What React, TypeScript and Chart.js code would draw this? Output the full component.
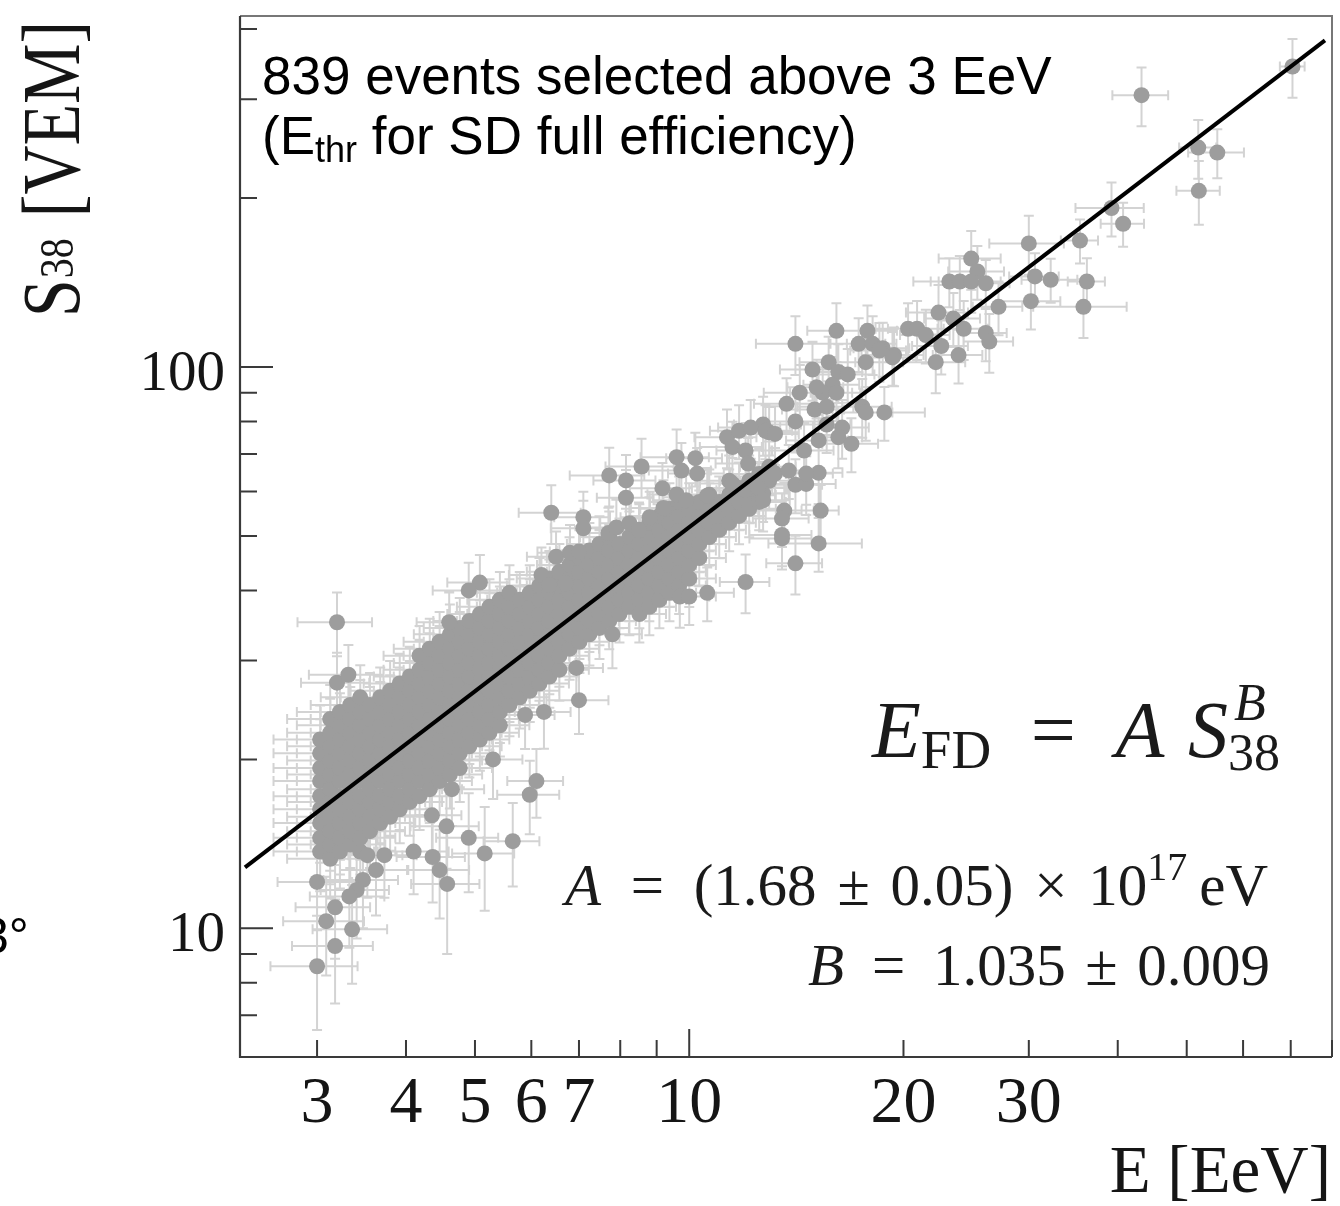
import React, { useEffect, useRef } from "react";
import { Chart, registerables } from "chart.js";

Chart.register(...registerables);

// ---------- axis ranges and ticks ----------
const X_MIN = 2.338;
const X_MAX = 80;
const Y_MIN = 5.9;
const Y_MAX = 422;

const xTickValues = [3, 4, 5, 6, 7, 8, 9, 10, 20, 30, 40, 50, 60, 70, 80];
const xMajorTicks = [10];
const xLabelValues = [3, 4, 5, 6, 7, 10, 20, 30];
const xLabelTexts = ["3", "4", "5", "6", "7", "10", "20", "30"];

const yTickValues = [7, 8, 9, 10, 20, 30, 40, 50, 60, 70, 80, 90, 100, 200, 300, 400];
const yMajorTicks = [10, 100];
const yLabelValues = [10, 100];
const yLabelTexts = ["10", "100"];

// ---------- fit line E_FD = A S38^B (endpoints) ----------
const fitLineE = [2.376, 78.2];
const fitLineS = [12.84, 381.8];

// ---------- dense band of events: energy columns (EeV) and S38 values (VEM) ----------
const bandEnergy = [
  3.03, 3.13, 3.23, 3.34, 3.45, 3.56, 3.68, 3.8, 3.92, 4.05, 4.18, 4.32, 4.46, 4.61, 4.76, 4.91,
  5.08, 5.24, 5.42, 5.59, 5.78, 5.97, 6.16, 6.36, 6.57, 6.79, 7.01, 7.24, 7.48, 7.72, 7.98, 8.24,
  8.51, 8.79, 9.08, 9.38, 9.68, 10.0, 10.33, 10.67, 11.02, 11.38, 11.75, 12.14, 12.54, 12.95,
];
const bandS38 = [
  [13.7, 14.5, 15.4, 16.3, 17.2, 18.3, 19.3, 20.5, 21.7],
  [13.3, 14.1, 14.9, 15.8, 16.8, 17.7, 18.8, 19.9, 21.1, 22.3, 23.6],
  [13.7, 14.5, 15.4, 16.3, 17.2, 18.3, 19.3, 20.5, 21.7, 23.0, 24.3],
  [14.1, 14.9, 15.8, 16.8, 17.7, 18.8, 19.9, 21.1, 22.3, 23.6, 25.0],
  [13.7, 14.5, 15.4, 16.3, 17.2, 18.3, 19.3, 20.5, 21.7, 23.0, 24.3, 25.8],
  [14.9, 15.8, 16.8, 17.7, 18.8, 19.9, 21.1, 22.3, 23.6, 25.0],
  [15.4, 16.3, 17.2, 18.3, 19.3, 20.5, 21.7, 23.0, 24.3, 25.8],
  [15.8, 16.8, 17.7, 18.8, 19.9, 21.1, 22.3, 23.6, 25.0, 26.5],
  [16.3, 17.2, 18.3, 19.3, 20.5, 21.7, 23.0, 24.3, 25.8, 27.3],
  [16.8, 17.7, 18.8, 19.9, 21.1, 22.3, 23.6, 25.0, 26.5, 28.1],
  [17.2, 18.3, 19.3, 20.5, 21.7, 23.0, 24.3, 25.8, 27.3, 28.9, 30.6],
  [17.7, 18.8, 19.9, 21.1, 22.3, 23.6, 25.0, 26.5, 28.1, 29.7, 31.5],
  [18.3, 19.3, 20.5, 21.7, 23.0, 24.3, 25.8, 27.3, 28.9, 30.6, 32.4],
  [18.8, 19.9, 21.1, 22.3, 23.6, 25.0, 26.5, 28.1, 29.7, 31.5, 33.4],
  [19.3, 20.5, 21.7, 23.0, 24.3, 25.8, 27.3, 28.9, 30.6, 32.4, 34.3],
  [21.1, 22.3, 23.6, 25.0, 26.5, 28.1, 29.7, 31.5, 33.4, 35.3],
  [21.7, 23.0, 24.3, 25.8, 27.3, 28.9, 30.6, 32.4, 34.3, 36.3],
  [22.3, 23.6, 25.0, 26.5, 28.1, 29.7, 31.5, 33.4, 35.3, 37.4],
  [23.0, 24.3, 25.8, 27.3, 28.9, 30.6, 32.4, 34.3, 36.3, 38.5],
  [25.0, 26.5, 28.1, 29.7, 31.5, 33.4, 35.3, 37.4, 39.6],
  [25.8, 27.3, 28.9, 30.6, 32.4, 34.3, 36.3, 38.5],
  [26.5, 28.1, 29.7, 31.5, 33.4, 35.3, 37.4, 39.6],
  [27.3, 28.9, 30.6, 32.4, 34.3, 36.3, 38.5, 40.8],
  [28.1, 29.7, 31.5, 33.4, 35.3, 37.4, 39.6, 42.0],
  [28.9, 30.6, 32.4, 34.3, 36.3, 38.5, 40.8, 43.2],
  [31.5, 33.4, 35.3, 37.4, 39.6, 42.0, 44.4],
  [32.4, 34.3, 36.3, 38.5, 40.8, 43.2, 45.7],
  [33.4, 35.3, 37.4, 39.6, 42.0, 44.4, 47.1],
  [34.3, 36.3, 38.5, 40.8, 43.2, 45.7, 48.4],
  [35.3, 37.4, 39.6, 42.0, 44.4, 47.1, 49.8],
  [36.3, 38.5, 40.8, 43.2, 45.7, 48.4],
  [37.4, 39.6, 42.0, 44.4, 47.1, 49.8],
  [36.3, 38.5, 40.8, 43.2, 45.7, 48.4, 51.3],
  [37.4, 39.6, 42.0, 44.4, 47.1, 49.8, 52.8],
  [38.5, 40.8, 43.2, 45.7, 48.4, 51.3, 54.3],
  [39.6, 42.0, 44.4, 47.1, 49.8, 52.8, 55.9],
  [40.8, 43.2, 45.7, 48.4, 51.3, 54.3, 57.5],
  [42.0, 44.4, 47.1, 49.8, 52.8, 55.9],
  [45.7, 48.4, 51.3, 54.3, 57.5],
  [49.8, 52.8, 55.9, 59.2],
  [51.3, 54.3, 57.5],
  [52.8, 55.9, 59.2, 62.7],
  [54.3, 57.5, 60.9],
  [55.9, 59.2, 62.7],
  [57.5, 60.9, 64.5],
  [62.7, 66.4],
];
// relative errors (%) per band column
const bandErrE = [
  14, 13, 13, 12, 12, 12, 12, 12, 11, 11, 11, 11, 11, 11, 11, 11, 10, 10, 10, 10, 10, 10, 10,
  10, 10, 10, 10, 10, 10, 9, 9, 9, 9, 9, 9, 9, 9, 9, 9, 9, 9, 9, 9, 9, 9, 9,
];
const bandErrS = [
  15, 15, 14, 14, 14, 14, 13, 13, 13, 13, 13, 13, 13, 13, 13, 12, 12, 12, 12, 12, 12, 12, 12,
  12, 12, 12, 12, 12, 12, 11, 11, 11, 11, 11, 11, 11, 11, 11, 11, 11, 11, 11, 11, 11, 11, 11,
];

// ---------- individually visible events: [E (EeV), S38 (VEM), dE %, dS %] ----------
const sparseEvents: [number, number, number, number][] = [
  [43.2, 305, 9, 12], [70.4, 343, 4, 12], [51.9, 246, 6, 12], [55.2, 241, 9, 10],
  [52.0, 206, 7, 13], [39.2, 192, 11, 11], [40.7, 180, 7, 9], [35.4, 168, 6, 9],
  [30.0, 166, 12, 12], [24.9, 156, 10, 12], [25.4, 148, 9, 11], [23.2, 142, 11, 10],
  [24.0, 142, 9, 11], [24.9, 142, 10, 12], [26.1, 141, 8, 10], [30.6, 145, 8, 10],
  [32.2, 143, 9, 9], [36.2, 142, 6, 10], [30.2, 131, 10, 11], [35.8, 128, 15, 12],
  [27.2, 128, 8, 11], [22.4, 125, 10, 12], [23.5, 122, 9, 11], [24.3, 117, 8, 12],
  [20.3, 117, 10, 11], [20.9, 117, 9, 12], [21.5, 114, 8, 11], [26.1, 115, 7, 11],
  [26.4, 111, 8, 12], [22.6, 109, 9, 11], [23.9, 105, 8, 11], [22.2, 102, 10, 12],
  [16.1, 116, 9, 12], [17.8, 116, 10, 11], [14.1, 110, 12, 12], [17.3, 110, 9, 11],
  [18.1, 110, 8, 12], [18.7, 108, 9, 11], [19.4, 105, 10, 12], [18.5, 107, 9, 12],
  [19.3, 104, 8, 11], [17.7, 102, 9, 11], [14.9, 99, 10, 12], [15.7, 102, 9, 11],
  [16.2, 98, 8, 12], [16.7, 97, 9, 11], [15.9, 93, 9, 12], [15.4, 90, 10, 11],
  [14.3, 90, 11, 12], [13.7, 86, 10, 11], [15.1, 92, 9, 12], [16.1, 90, 8, 11],
  [15.0, 84, 10, 12], [15.6, 85, 9, 11], [17.5, 85, 10, 12], [17.7, 83, 9, 11],
  [18.8, 83, 14, 11], [14.1, 80, 9, 12], [12.95, 76.5, 10, 11], [12.7, 79, 9, 12],
  [15.6, 79, 8, 11], [16.4, 78, 9, 12], [15.2, 74, 10, 11], [16.2, 75, 8, 12],
  [16.9, 73, 9, 11], [14.5, 71, 10, 12], [13.2, 64.6, 9, 11], [15.2, 64.8, 8, 12],
  [14.1, 61.7, 9, 11], [14.6, 61.9, 10, 12], [12.7, 59.5, 9, 11], [13.6, 55.5, 10, 12],
  [15.3, 55.5, 6, 11], [13.5, 53.7, 9, 11], [13.5, 49.5, 10, 12], [15.2, 48.5, 15, 11],
  [14.1, 44.7, 9, 12], [11.3, 75, 10, 12], [11.75, 77, 9, 11], [12.2, 78, 10, 12],
  [12.8, 77, 9, 11], [13.2, 76, 8, 12], [11.5, 72, 10, 11], [12.0, 71, 9, 12],
  [12.1, 67.3, 10, 11], [9.6, 69.1, 11, 12], [10.2, 68.8, 9, 11], [9.75, 65.4, 10, 12],
  [10.26, 64.6, 9, 11], [8.57, 66.5, 11, 12], [7.72, 64.1, 12, 12], [8.15, 62.8, 10, 11],
  [8.15, 58.5, 9, 12], [9.17, 60.8, 10, 11], [9.6, 59.3, 9, 12], [9.9, 57.9, 10, 11],
  [10.6, 59.0, 9, 12], [11.5, 62.0, 10, 11], [12.0, 60.3, 9, 12], [12.5, 61.0, 10, 11],
  [12.7, 57.9, 9, 12], [13.8, 65.4, 10, 11], [14.6, 64.6, 9, 12], [13.5, 50.2, 10, 12],
  [12.0, 41.4, 8, 12], [10.6, 39.6, 9, 11], [9.7, 39.0, 10, 12], [10.0, 39.0, 9, 11],
  [6.4, 55.0, 10, 12], [7.1, 54.0, 9, 11], [7.1, 51.6, 10, 12], [6.5, 45.9, 9, 11],
  [6.8, 46.7, 10, 12], [7.0, 46.9, 9, 11], [6.2, 42.6, 10, 12], [6.36, 40.9, 9, 11],
  [6.7, 41.2, 10, 12], [7.7, 50.6, 9, 11], [7.9, 51.8, 10, 12], [8.24, 52.7, 9, 11],
  [8.5, 51.2, 10, 12], [8.8, 54.0, 9, 11], [9.2, 56.1, 10, 12], [7.8, 33.4, 10, 13],
  [7.0, 25.5, 10, 13], [6.94, 29.1, 9, 12], [5.88, 24.0, 10, 13], [6.25, 24.3, 9, 14],
  [5.3, 20.0, 10, 15], [6.1, 18.3, 9, 14], [5.97, 17.3, 10, 15], [4.64, 17.7, 11, 14],
  [4.35, 15.9, 10, 15], [4.56, 15.2, 11, 16], [4.9, 14.5, 10, 20], [5.65, 14.3, 9, 17],
  [4.1, 13.7, 12, 16], [5.16, 13.6, 10, 21], [4.36, 13.4, 11, 17], [4.46, 12.7, 10, 18],
  [4.57, 12.0, 11, 25], [3.73, 13.5, 11, 16], [3.53, 13.5, 12, 16], [3.63, 12.7, 11, 17],
  [3.48, 12.2, 12, 18], [3.41, 11.7, 11, 18], [3.33, 11.4, 12, 19], [3.0, 12.1, 12, 18],
  [3.18, 10.9, 12, 19], [3.09, 10.3, 13, 20], [3.36, 9.96, 12, 20], [3.18, 9.3, 13, 21],
  [3.0, 8.56, 14, 23], [3.2, 35.1, 12, 13], [3.2, 27.4, 11, 13], [3.32, 28.3, 12, 13],
  [5.08, 41.3, 10, 12], [4.9, 40.0, 11, 12], [4.6, 35.1, 10, 13],
];

// ---------- text ----------
const annotationLine1 = "839 events selected above 3 EeV";
const annotationLine2 = ["(E", "thr", " for SD full efficiency)"];
const xAxisTitle = "E [EeV]";
const yAxisTitle = ["S", "38", " [VEM]"];
const edgeFragment = "3°";

const SERIF = '"Liberation Serif", "Times New Roman", serif';
const SANS = '"Liberation Sans", Arial, sans-serif';

type Seg = {
  t?: string;
  f?: string;
  dy?: number;
  gap?: number;
  stack?: { t: string; f: string; dy: number; dx?: number }[];
};

function drawRich(ctx: CanvasRenderingContext2D, segs: Seg[], xLeft: number, xRight: number, baseline: number) {
  const widths = segs.map((s) => {
    if (s.stack) {
      return Math.max(
        ...s.stack.map((p) => {
          ctx.font = p.f;
          return ctx.measureText(p.t).width + (p.dx || 0);
        })
      );
    }
    ctx.font = s.f as string;
    return ctx.measureText(s.t as string).width;
  });
  const glyphW = widths.reduce((a, b) => a + b, 0);
  const gapW = segs.reduce((a, s) => a + (s.gap || 0), 0);
  const unit = gapW > 0 ? Math.max(0, (xRight - xLeft - glyphW) / gapW) : 0;
  let x = xLeft;
  segs.forEach((s, i) => {
    x += (s.gap || 0) * unit;
    if (s.stack) {
      s.stack.forEach((p) => {
        ctx.font = p.f;
        ctx.fillText(p.t, x + (p.dx || 0), baseline + p.dy);
      });
    } else {
      ctx.font = s.f as string;
      ctx.fillText(s.t as string, x, baseline + (s.dy || 0));
    }
    x += widths[i];
  });
}

export default function App() {
  const canvasRef = useRef<HTMLCanvasElement | null>(null);

  useEffect(() => {
    document.body.style.margin = "0";
    const canvas = canvasRef.current;
    if (!canvas) return;

    const points: { x: number; y: number }[] = [];
    const errs: [number, number][] = [];
    bandEnergy.forEach((e, i) => {
      bandS38[i].forEach((s) => {
        points.push({ x: e, y: s });
        errs.push([bandErrE[i], bandErrS[i]]);
      });
    });
    sparseEvents.forEach(([e, s, de, ds]) => {
      points.push({ x: e, y: s });
      errs.push([de, ds]);
    });

    const errorBars = {
      id: "errorBars",
      beforeDatasetsDraw(chart: any) {
        const { ctx, chartArea: a, scales } = chart;
        const xs = scales.x;
        const ys = scales.y;
        ctx.save();
        ctx.beginPath();
        ctx.rect(a.left, a.top, a.right - a.left, a.bottom - a.top);
        ctx.clip();
        ctx.strokeStyle = "#d3d3d3";
        ctx.lineWidth = 2;
        ctx.beginPath();
        points.forEach((p, i) => {
          const [de, ds] = errs[i];
          const px = xs.getPixelForValue(p.x);
          const py = ys.getPixelForValue(p.y);
          const x1 = xs.getPixelForValue(p.x * (1 - de / 100));
          const x2 = xs.getPixelForValue(p.x * (1 + de / 100));
          const y1 = ys.getPixelForValue(p.y * (1 - ds / 100));
          const y2 = ys.getPixelForValue(p.y * (1 + ds / 100));
          ctx.moveTo(x1, py);
          ctx.lineTo(x2, py);
          ctx.moveTo(px, y1);
          ctx.lineTo(px, y2);
          ctx.moveTo(x1, py - 5);
          ctx.lineTo(x1, py + 5);
          ctx.moveTo(x2, py - 5);
          ctx.lineTo(x2, py + 5);
          ctx.moveTo(px - 5, y1);
          ctx.lineTo(px + 5, y1);
          ctx.moveTo(px - 5, y2);
          ctx.lineTo(px + 5, y2);
        });
        ctx.stroke();
        ctx.restore();
      },
    };

    const decor = {
      id: "decor",
      afterDraw(chart: any) {
        const { ctx, chartArea: a, scales } = chart;
        const xs = scales.x;
        const ys = scales.y;
        ctx.save();
        // frame
        ctx.strokeStyle = "#777777";
        ctx.lineWidth = 2;
        ctx.beginPath();
        ctx.moveTo(a.left, a.top);
        ctx.lineTo(a.right, a.top);
        ctx.lineTo(a.right, a.bottom);
        ctx.stroke();
        ctx.strokeStyle = "#3a3a3a";
        ctx.lineWidth = 2.2;
        ctx.beginPath();
        ctx.moveTo(a.left, a.top);
        ctx.lineTo(a.left, a.bottom);
        ctx.lineTo(a.right, a.bottom);
        ctx.stroke();
        // ticks
        ctx.lineWidth = 2;
        ctx.beginPath();
        xTickValues.forEach((v) => {
          const p = xs.getPixelForValue(v);
          const len = xMajorTicks.includes(v) ? 28 : 17;
          ctx.moveTo(p, a.bottom);
          ctx.lineTo(p, a.bottom - len);
        });
        yTickValues.forEach((v) => {
          const p = ys.getPixelForValue(v);
          const len = yMajorTicks.includes(v) ? 33 : 17;
          ctx.moveTo(a.left, p);
          ctx.lineTo(a.left + len, p);
        });
        ctx.stroke();

        // tick labels
        ctx.fillStyle = "#151515";
        ctx.textBaseline = "alphabetic";
        ctx.font = `66px ${SERIF}`;
        ctx.textAlign = "center";
        xLabelValues.forEach((v, i) => {
          ctx.fillText(xLabelTexts[i], xs.getPixelForValue(v), a.bottom + 65);
        });
        ctx.font = `57px ${SERIF}`;
        ctx.textAlign = "right";
        yLabelValues.forEach((v, i) => {
          ctx.fillText(yLabelTexts[i], a.left - 15, ys.getPixelForValue(v) + 23);
        });

        // axis titles
        ctx.font = `67px ${SERIF}`;
        ctx.textAlign = "right";
        ctx.fillText(xAxisTitle, a.right - 1, 1192);

        ctx.save();
        ctx.translate(79, 317);
        ctx.rotate(-Math.PI / 2);
        ctx.scale(1, 1.2);
        ctx.textAlign = "left";
        let tx = 0;
        ctx.font = `68px ${SERIF}`;
        ctx.fillText(yAxisTitle[0], tx, 0);
        tx += ctx.measureText(yAxisTitle[0]).width + 1;
        ctx.font = `40px ${SERIF}`;
        ctx.fillText(yAxisTitle[1], tx, -5);
        tx += ctx.measureText(yAxisTitle[1]).width + 4;
        ctx.font = `68px ${SERIF}`;
        ctx.fillText(yAxisTitle[2], tx, 0);
        ctx.restore();

        // annotation (sans)
        ctx.fillStyle = "#000000";
        ctx.textAlign = "left";
        ctx.font = `53px ${SANS}`;
        ctx.fillText(annotationLine1, 262, 94);
        let ax = 262;
        ctx.fillText(annotationLine2[0], ax, 154);
        ax += ctx.measureText(annotationLine2[0]).width;
        ctx.font = `36px ${SANS}`;
        ctx.fillText(annotationLine2[1], ax, 162);
        ax += ctx.measureText(annotationLine2[1]).width;
        ctx.font = `53px ${SANS}`;
        ctx.fillText(annotationLine2[2], ax, 154);

        // fragment at the left page edge
        ctx.font = `50px ${SANS}`;
        ctx.fillText(edgeFragment, -19, 953);

        // formula
        ctx.fillStyle = "#1a1a1a";
        const it80 = `italic 80px ${SERIF}`;
        const rm80 = `80px ${SERIF}`;
        drawRich(
          ctx,
          [
            { t: "E", f: it80 },
            { t: "FD", f: `55px ${SERIF}`, dy: 11 },
            { t: "=", f: rm80, gap: 1 },
            { t: "A", f: it80, gap: 1 },
            { t: "S", f: it80, gap: 0.6 },
            {
              stack: [
                { t: "B", f: `italic 52px ${SERIF}`, dy: -37, dx: 6 },
                { t: "38", f: `52px ${SERIF}`, dy: 13 },
              ],
            },
          ],
          872,
          1280,
          757
        );
        const it58 = `italic 59px ${SERIF}`;
        const rm58 = `59px ${SERIF}`;
        drawRich(
          ctx,
          [
            { t: "A", f: it58 },
            { t: "=", f: rm58, gap: 1 },
            { t: "(1.68", f: rm58, gap: 1 },
            { t: "±", f: rm58, gap: 0.7 },
            { t: "0.05)", f: rm58, gap: 0.7 },
            { t: "×", f: rm58, gap: 0.7 },
            { t: "10", f: rm58, gap: 0.7 },
            { t: "17", f: `40px ${SERIF}`, dy: -25 },
            { t: "eV", f: rm58, gap: 0.4 },
          ],
          565,
          1268,
          905
        );
        drawRich(
          ctx,
          [
            { t: "B", f: it58 },
            { t: "=", f: rm58, gap: 1 },
            { t: "1.035", f: rm58, gap: 1 },
            { t: "±", f: rm58, gap: 0.7 },
            { t: "0.009", f: rm58, gap: 0.7 },
          ],
          808,
          1270,
          985
        );
        ctx.restore();
      },
    };

    const chart = new Chart(canvas, {
      type: "scatter",
      data: {
        datasets: [
          {
            type: "line",
            label: "fit",
            data: fitLineE.map((e, i) => ({ x: e, y: fitLineS[i] })),
            borderColor: "#000000",
            borderWidth: 4,
            pointRadius: 0,
            tension: 0,
            fill: false,
            order: 1,
          } as any,
          {
            type: "scatter",
            label: "events",
            data: points,
            pointRadius: 8,
            pointHoverRadius: 8,
            pointBackgroundColor: "#9d9d9d",
            pointBorderWidth: 0,
            pointBorderColor: "rgba(0,0,0,0)",
            order: 2,
          } as any,
        ],
      },
      options: {
        animation: false,
        responsive: false,
        maintainAspectRatio: false,
        devicePixelRatio: 1,
        events: [],
        layout: { padding: { left: 240, right: 6, top: 16, bottom: 149 } },
        plugins: { legend: { display: false }, tooltip: { enabled: false }, title: { display: false } },
        scales: {
          x: { type: "logarithmic", min: X_MIN, max: X_MAX, display: false },
          y: { type: "logarithmic", min: Y_MIN, max: Y_MAX, display: false },
        },
      },
      plugins: [errorBars, decor],
    });

    return () => {
      chart.destroy();
    };
  }, []);

  return (
    <div style={{ position: "absolute", left: 0, top: 0, width: 1340, height: 1206, background: "#ffffff" }}>
      <canvas ref={canvasRef} width={1340} height={1206} style={{ display: "block", width: 1340, height: 1206 }} />
    </div>
  );
}
